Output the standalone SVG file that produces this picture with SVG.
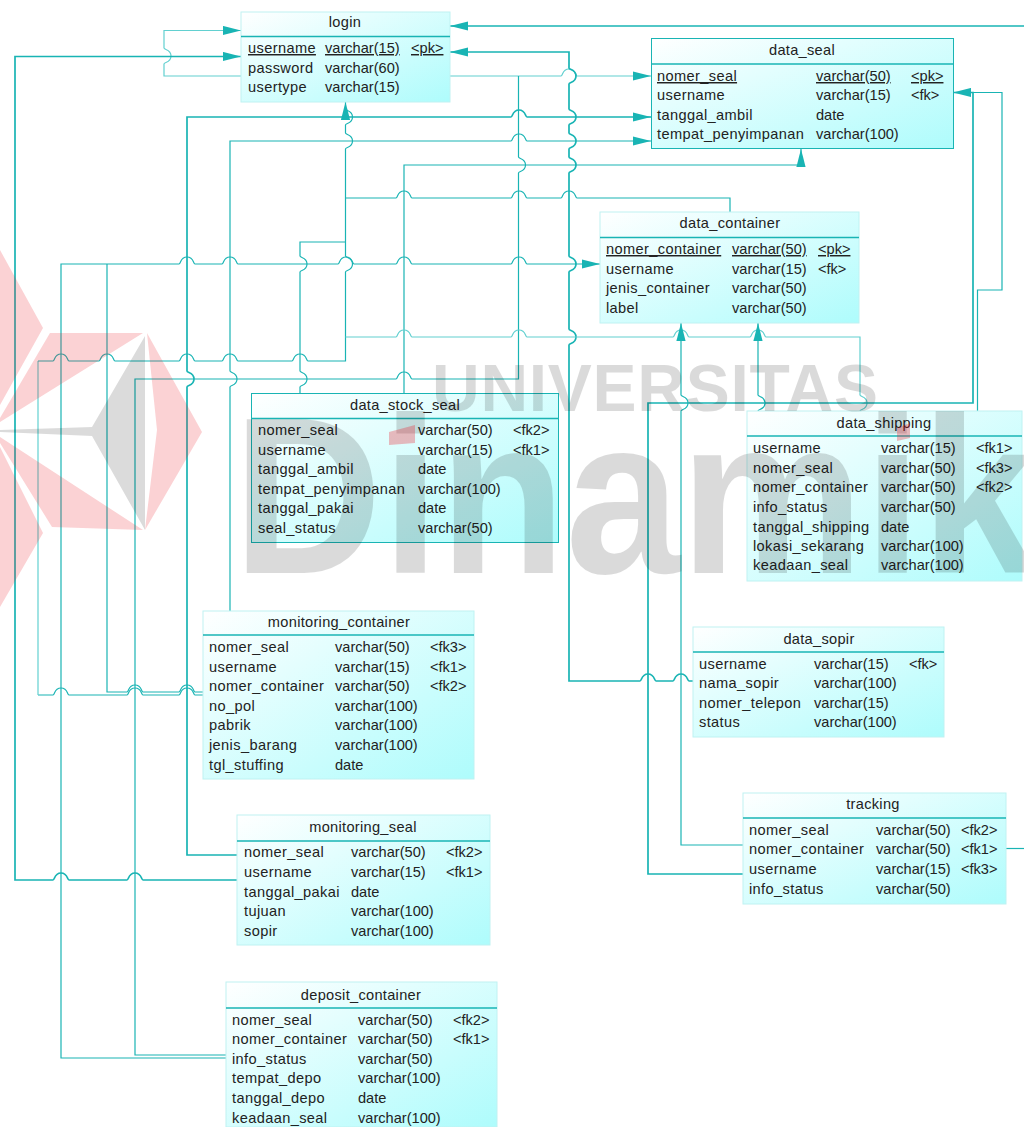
<svg xmlns="http://www.w3.org/2000/svg" width="1024" height="1127" viewBox="0 0 1024 1127">
<style>
text{font-family:"Liberation Sans",Arial,sans-serif;font-size:14.6px;fill:#222}
text[x="248"],text[x="657"],text[x="606"],text[x="258"],text[x="753"],text[x="209"],text[x="699"],text[x="749"],text[x="244"],text[x="232"]{letter-spacing:.38px}
.t{text-anchor:middle;letter-spacing:.3px}
.u{text-decoration:underline}
.c path{fill:none;stroke:#19b4b4;stroke-width:1.2}
.c path.k{stroke-width:1.7}
.c path.f{stroke:#62d0d0}
.b{fill:url(#g);stroke:#bff2f2;stroke-width:1}
.b2{fill:url(#g);stroke:#19b4b4;stroke-width:1}
.h{stroke:#19b4b4;stroke-width:1.3}
.wt{fill:#000;font-weight:bold;opacity:.14}
.wr{fill:#ea1c28;opacity:.2}
.wd{fill:#ea1c28;opacity:.3}
.wg{fill:#000;opacity:.14}
</style>
<defs>
<linearGradient id="g" x1="0" y1="0" x2="1" y2="1"><stop offset="0" stop-color="#fff"/><stop offset="1" stop-color="#aefcfc"/></linearGradient>
<marker id="a" markerUnits="userSpaceOnUse" markerWidth="18" markerHeight="10" refX="18" refY="5" orient="auto-start-reverse"><path d="M0 .4L18 5L0 9.6z" fill="#19b4b4"/></marker>
</defs>
<rect width="1024" height="1127" fill="#fff"/>
<g id="connectors" class="c">
<path class="f" d="M241 76H164V64c0-2 7-1 7-8s-7-6-7-8V30.500H241" marker-end="url(#a)"/>
<path class="k" d="M241 56.500H15V880H53c2 0 1-7 8-7s6 7 8 7H127c2 0 1-7 8-7s6 7 8 7H237" marker-start="url(#a)"/>
<path class="f" d="M450 76H561c2 0 1-7 8-7s6 7 8 7H651" marker-end="url(#a)"/>
<path d="M226 1055H135V379H396c2 0 1-7 8-7s6 7 8 7H518.500V173c0-2 7-1 7-8s-7-6-7-8V76"/>
<path class="k" d="M450 52H569V68c0 2 7 1 7 8s-7 6-7 8V109c0 2 7 1 7 8s-7 6-7 8V133c0 2 7 1 7 8s-7 6-7 8V157c0 2 7 1 7 8s-7 6-7 8V256c0 2 7 1 7 8s-7 6-7 8V329c0 2 7 1 7 8s-7 6-7 8V681H640c2 0 1-7 8-7s6 7 8 7H673c2 0 1-7 8-7s6 7 8 7H693" marker-start="url(#a)"/>
<path class="k" d="M450 26H1024" marker-start="url(#a)"/>
<path class="k" d="M237 855H187V387c0-2 7-1 7-8s-7-6-7-8V117H511c2 0 1-7 8-7s6 7 8 7H651" marker-end="url(#a)"/>
<path d="M230 611V387c0-2 7-1 7-8s-7-6-7-8V141H511c2 0 1-7 8-7s6 7 8 7H651" marker-end="url(#a)"/>
<path d="M404 393V165H801V149" marker-end="url(#a)"/>
<path d="M38 695H53c2 0 1-7 8-7s6 7 8 7H127c2 0 1-7 8-7s6 7 8 7H179c2 0 1-7 8-7s6 7 8 7H203"/>
<path class="f" d="M38 695V361"/>
<path d="M38 361H53c2 0 1-7 8-7s6 7 8 7H99c2 0 1-7 8-7s6 7 8 7H179c2 0 1-7 8-7s6 7 8 7H222c2 0 1-7 8-7s6 7 8 7H292c2 0 1-7 8-7s6 7 8 7H345.500V272c0-2 7-1 7-8s-7-6-7-8V149c0-2 7-1 7-8s-7-6-7-8V125c0-2 7-1 7-8s-7-6-7-8V102" marker-end="url(#a)"/>
<path d="M226 1058H61V264H179c2 0 1-7 8-7s6 7 8 7H222c2 0 1-7 8-7s6 7 8 7H338c2 0 1-7 8-7s6 7 8 7H396c2 0 1-7 8-7s6 7 8 7H511c2 0 1-7 8-7s6 7 8 7H600" marker-end="url(#a)"/>
<path d="M107 264V692H127c2 0 1-7 8-7s6 7 8 7H179c2 0 1-7 8-7s6 7 8 7H203"/>
<path d="M345.500 242H300V256c0 2 7 1 7 8s-7 6-7 8V371c0 2 7 1 7 8s-7 6-7 8V393"/>
<path d="M345.500 198H396c2 0 1-7 8-7s6 7 8 7H511c2 0 1-7 8-7s6 7 8 7H561c2 0 1-7 8-7s6 7 8 7H730V212"/>
<path class="f" d="M345.500 337H396c2 0 1-7 8-7s6 7 8 7H511c2 0 1-7 8-7s6 7 8 7H673c2 0 1-7 8-7s6 7 8 7H750c2 0 1-7 8-7s6 7 8 7H860V395c0 2 7 1 7 8s-7 6-7 8"/>
<path d="M681 323V395c0 2 7 1 7 8s-7 6-7 8V845H743" marker-start="url(#a)"/>
<path d="M758 323V395c0 2 7 1 7 8s-7 6-7 8" marker-start="url(#a)"/>
<path class="k" d="M743 874H648V403H973V92.500H953" marker-end="url(#a)"/>
<path d="M977.500 411V290H1002V92.500H973"/>
<path d="M1006 848.500H1024"/>
</g>
<g id="login">
<rect class="b" x="241" y="12" width="209" height="90"/><path class="h" d="M241 36.500H450"/>
<text class="t" x="345" y="27">login</text>
<text class="u" x="248" y="53">username</text><text class="u" x="325" y="53">varchar(15)</text><text class="u" x="411" y="53">&lt;pk&gt;</text>
<text x="248" y="73">password</text><text x="325" y="73">varchar(60)</text>
<text x="248" y="92">usertype</text><text x="325" y="92">varchar(15)</text>
</g>
<g id="data_seal">
<rect class="b2" x="651.500" y="38.500" width="302" height="110"/><path class="h" d="M651 64H953"/>
<text class="t" x="802" y="55">data_seal</text>
<text class="u" x="657" y="81">nomer_seal</text><text class="u" x="816" y="81">varchar(50)</text><text class="u" x="911" y="81">&lt;pk&gt;</text>
<text x="657" y="100">username</text><text x="816" y="100">varchar(15)</text><text x="911" y="100">&lt;fk&gt;</text>
<text x="657" y="120">tanggal_ambil</text><text x="816" y="120">date</text>
<text x="657" y="139">tempat_penyimpanan</text><text x="816" y="139">varchar(100)</text>
</g>
<g id="data_container">
<rect class="b" x="600" y="212" width="259" height="111"/><path class="h" d="M600 237.500H859"/>
<text class="t" x="730" y="228">data_container</text>
<text class="u" x="606" y="254">nomer_container</text><text class="u" x="732" y="254">varchar(50)</text><text class="u" x="818" y="254">&lt;pk&gt;</text>
<text x="606" y="274">username</text><text x="732" y="274">varchar(15)</text><text x="818" y="274">&lt;fk&gt;</text>
<text x="606" y="293">jenis_container</text><text x="732" y="293">varchar(50)</text>
<text x="606" y="313">label</text><text x="732" y="313">varchar(50)</text>
</g>
<g id="data_stock_seal">
<rect class="b2" x="251.500" y="393.500" width="307" height="149"/><path class="h" d="M251 418.500H559"/>
<text class="t" x="405" y="410">data_stock_seal</text>
<text x="258" y="435">nomer_seal</text><text x="418" y="435">varchar(50)</text><text x="513" y="435">&lt;fk2&gt;</text>
<text x="258" y="455">username</text><text x="418" y="455">varchar(15)</text><text x="513" y="455">&lt;fk1&gt;</text>
<text x="258" y="474">tanggal_ambil</text><text x="418" y="474">date</text>
<text x="258" y="494">tempat_penyimpanan</text><text x="418" y="494">varchar(100)</text>
<text x="258" y="513">tanggal_pakai</text><text x="418" y="513">date</text>
<text x="258" y="533">seal_status</text><text x="418" y="533">varchar(50)</text>
</g>
<g id="data_shipping">
<rect class="b" x="747" y="411" width="275" height="170"/><path class="h" d="M747 436H1022"/>
<text class="t" x="884" y="428">data_shipping</text>
<text x="753" y="453">username</text><text x="881" y="453">varchar(15)</text><text x="976" y="453">&lt;fk1&gt;</text>
<text x="753" y="473">nomer_seal</text><text x="881" y="473">varchar(50)</text><text x="976" y="473">&lt;fk3&gt;</text>
<text x="753" y="492">nomer_container</text><text x="881" y="492">varchar(50)</text><text x="976" y="492">&lt;fk2&gt;</text>
<text x="753" y="512">info_status</text><text x="881" y="512">varchar(50)</text>
<text x="753" y="532">tanggal_shipping</text><text x="881" y="532">date</text>
<text x="753" y="551">lokasi_sekarang</text><text x="881" y="551">varchar(100)</text>
<text x="753" y="570">keadaan_seal</text><text x="881" y="570">varchar(100)</text>
</g>
<g id="monitoring_container">
<rect class="b" x="203" y="611" width="271" height="168"/><path class="h" d="M203 635H474"/>
<text class="t" x="339" y="627">monitoring_container</text>
<text x="209" y="652">nomer_seal</text><text x="335" y="652">varchar(50)</text><text x="430" y="652">&lt;fk3&gt;</text>
<text x="209" y="672">username</text><text x="335" y="672">varchar(15)</text><text x="430" y="672">&lt;fk1&gt;</text>
<text x="209" y="691">nomer_container</text><text x="335" y="691">varchar(50)</text><text x="430" y="691">&lt;fk2&gt;</text>
<text x="209" y="711">no_pol</text><text x="335" y="711">varchar(100)</text>
<text x="209" y="730">pabrik</text><text x="335" y="730">varchar(100)</text>
<text x="209" y="750">jenis_barang</text><text x="335" y="750">varchar(100)</text>
<text x="209" y="770">tgl_stuffing</text><text x="335" y="770">date</text>
</g>
<g id="data_sopir">
<rect class="b" x="693" y="627" width="251" height="110"/><path class="h" d="M693 652H944"/>
<text class="t" x="819" y="644">data_sopir</text>
<text x="699" y="669">username</text><text x="814" y="669">varchar(15)</text><text x="909" y="669">&lt;fk&gt;</text>
<text x="699" y="688">nama_sopir</text><text x="814" y="688">varchar(100)</text>
<text x="699" y="708">nomer_telepon</text><text x="814" y="708">varchar(15)</text>
<text x="699" y="727">status</text><text x="814" y="727">varchar(100)</text>
</g>
<g id="tracking">
<rect class="b" x="743" y="793" width="263" height="111"/><path class="h" d="M743 818H1006"/>
<text class="t" x="873" y="809">tracking</text>
<text x="749" y="835">nomer_seal</text><text x="876" y="835">varchar(50)</text><text x="961" y="835">&lt;fk2&gt;</text>
<text x="749" y="854">nomer_container</text><text x="876" y="854">varchar(50)</text><text x="961" y="854">&lt;fk1&gt;</text>
<text x="749" y="874">username</text><text x="876" y="874">varchar(15)</text><text x="961" y="874">&lt;fk3&gt;</text>
<text x="749" y="894">info_status</text><text x="876" y="894">varchar(50)</text>
</g>
<g id="monitoring_seal">
<rect class="b" x="237" y="815" width="253" height="130"/><path class="h" d="M237 841H490"/>
<text class="t" x="363" y="832">monitoring_seal</text>
<text x="244" y="857">nomer_seal</text><text x="351" y="857">varchar(50)</text><text x="446" y="857">&lt;fk2&gt;</text>
<text x="244" y="877">username</text><text x="351" y="877">varchar(15)</text><text x="446" y="877">&lt;fk1&gt;</text>
<text x="244" y="897">tanggal_pakai</text><text x="351" y="897">date</text>
<text x="244" y="916">tujuan</text><text x="351" y="916">varchar(100)</text>
<text x="244" y="936">sopir</text><text x="351" y="936">varchar(100)</text>
</g>
<g id="deposit_container">
<rect class="b" x="226" y="982" width="271" height="145"/><path class="h" d="M226 1008H497"/>
<text class="t" x="361" y="1000">deposit_container</text>
<text x="232" y="1025">nomer_seal</text><text x="358" y="1025">varchar(50)</text><text x="453" y="1025">&lt;fk2&gt;</text>
<text x="232" y="1044">nomer_container</text><text x="358" y="1044">varchar(50)</text><text x="453" y="1044">&lt;fk1&gt;</text>
<text x="232" y="1064">info_status</text><text x="358" y="1064">varchar(50)</text>
<text x="232" y="1083">tempat_depo</text><text x="358" y="1083">varchar(100)</text>
<text x="232" y="1103">tanggal_depo</text><text x="358" y="1103">date</text>
<text x="232" y="1123">keadaan_seal</text><text x="358" y="1123">varchar(100)</text>
</g>
<g id="watermark">
<path class="wr" d="M0 250L43 328L0 405zM0 418L50 333H143L0 422zM0 437L143 530L52 527L0 443zM0 447L43 533L0 607zM147 333L157 430L145 530L202 432z"/>
<path class="wg" d="M0 430L92 427L145 336V530L92 436L0 432z"/>
<text class="wt" x="432" y="411" textLength="446" style="font-size:66px">UNIVERSITAS</text>
<text class="wt" transform="translate(233 573) scale(.93 1)" style="font-size:222px">Dinamik</text>
<path class="wd" d="M389 432L415 425V443L389 445zM897 428L910 423V438L897 441z"/>
</g>
</svg>
